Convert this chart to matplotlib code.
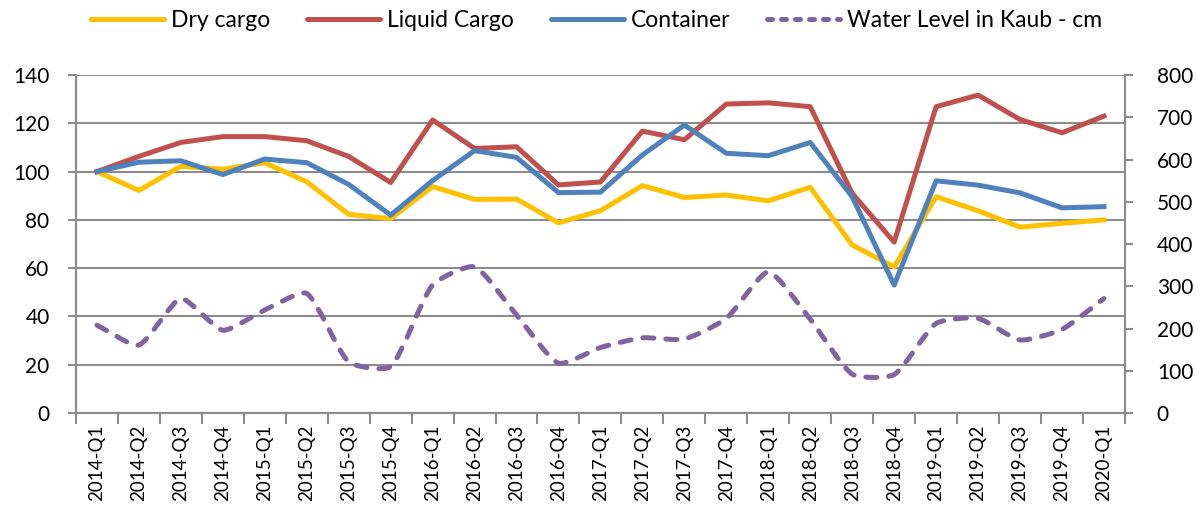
import numpy as np
import matplotlib
matplotlib.use("Agg")
import matplotlib.pyplot as plt
from matplotlib.path import Path
from matplotlib.patches import PathPatch
from matplotlib.lines import Line2D

plt.rcParams["font.family"] = ["Lato", "DejaVu Sans"]

quarters = ["2014-Q1", "2014-Q2", "2014-Q3", "2014-Q4",
            "2015-Q1", "2015-Q2", "2015-Q3", "2015-Q4",
            "2016-Q1", "2016-Q2", "2016-Q3", "2016-Q4",
            "2017-Q1", "2017-Q2", "2017-Q3", "2017-Q4",
            "2018-Q1", "2018-Q2", "2018-Q3", "2018-Q4",
            "2019-Q1", "2019-Q2", "2019-Q3", "2019-Q4", "2020-Q1"]

dry_cargo = [100, 92.2, 102.2, 101, 103.7, 95.8, 82.3, 80.5,
             93.8, 88.5, 88.6, 78.8, 83.8, 94.2, 89.3, 90.3,
             87.9, 93.5, 69.6, 60.5, 89.6, 83.8, 77.0, 78.6, 80.0]
liquid_cargo = [100, 106.3, 112.1, 114.5, 114.5, 112.8, 106.3, 95.5,
                121.4, 109.6, 110.3, 94.5, 95.7, 116.8, 113.2, 128.0,
                128.5, 126.9, 91.0, 70.8, 126.9, 131.7, 121.6, 116.1, 123.0]
container = [100, 103.9, 104.5, 98.8, 105.2, 103.7, 94.7, 82.0,
             96.3, 108.7, 105.9, 91.3, 91.5, 106.9, 119.3, 107.6,
             106.6, 112.1, 89.6, 53.0, 96.2, 94.4, 91.2, 85.0, 85.5]
water_kaub = [208, 161, 271, 196, 244, 283, 121, 110,
              303, 346, 232, 118, 155, 178, 175, 224,
              334, 222, 92, 91, 212, 224, 173, 198, 271]

c_dry = "#FFC000"
c_liq = "#C0504D"
c_con = "#4F81BD"
c_wat = "#8064A2"
grid_c = "#8C8C8C"
lw = 3.6

fig = plt.figure(figsize=(11.98, 5.25), dpi=100)
ax = fig.add_axes([0.0634, 0.2133, 0.8756, 0.6437])
ax2 = ax.twinx()

x = np.arange(len(quarters))
ax.plot(x, dry_cargo, color=c_dry, lw=lw, solid_joinstyle="round", zorder=3)
ax.plot(x, liquid_cargo, color=c_liq, lw=lw, solid_joinstyle="round", zorder=3)
ax.plot(x, container, color=c_con, lw=lw, solid_joinstyle="round", zorder=4)

ax.set_xlim(-0.5, len(quarters) - 0.5)
ax.set_ylim(0, 140)
ax2.set_ylim(0, 800)

# gently smoothed water-level line: bezier through the points, built in
# pixel space, tangents weighted by neighbouring segment lengths
k = 0.2
pix = ax2.transData.transform(np.column_stack([x, water_kaub]).astype(float))
ext = np.vstack([pix[0], pix, pix[-1]])
verts = [pix[0]]
codes = [Path.MOVETO]
for i in range(len(pix) - 1):
    p0, p1, p2, p3 = ext[i], ext[i + 1], ext[i + 2], ext[i + 3]
    d01 = np.hypot(*(p1 - p0))
    d12 = np.hypot(*(p2 - p1))
    d23 = np.hypot(*(p3 - p2))
    c1 = p1 + (p2 - p0) * d12 / (d01 + d12) * k
    c2 = p2 - (p3 - p1) * d12 / (d12 + d23) * k
    verts += [c1, c2, p2]
    codes += [Path.CURVE4] * 3
verts = ax2.transData.inverted().transform(np.array(verts))
patch = PathPatch(Path(verts, codes), fill=False, edgecolor=c_wat, lw=lw,
                  linestyle=(0, (2.2, 2.4)), capstyle="round", zorder=3)
ax2.add_patch(patch)

ax.set_yticks(np.arange(0, 141, 20))
ax2.set_yticks(np.arange(0, 801, 100))

ax.set_xticks(x)
ax.set_xticklabels(quarters, rotation=90, fontsize=13.5)
ax.set_xticks(np.arange(-0.5, len(quarters), 1), minor=True)
ax.tick_params(axis="x", which="major", length=0, pad=8)
ax.tick_params(axis="x", which="minor", length=8, width=1.5, color=grid_c)
ax.tick_params(axis="y", length=6, width=1.5, color=grid_c, labelsize=15, pad=13)
ax2.tick_params(axis="y", length=6, width=1.5, color=grid_c, labelsize=15, pad=17)

ax.grid(axis="y", color=grid_c, lw=1.5)
ax.set_axisbelow(True)
for a in (ax, ax2):
    a.spines["top"].set_visible(False)
    for s in ("left", "right", "bottom"):
        a.spines[s].set_color(grid_c)
        a.spines[s].set_linewidth(1.5)

handles = [
    Line2D([], [], color=c_dry, lw=lw, solid_capstyle="round"),
    Line2D([], [], color=c_liq, lw=lw, solid_capstyle="round"),
    Line2D([], [], color=c_con, lw=lw, solid_capstyle="round"),
    Line2D([], [], color=c_wat, lw=lw, linestyle=(0, (1.0, 1.8)),
           dash_capstyle="round"),
]
labels = ["Dry cargo", "Liquid Cargo", "Container", "Water Level in Kaub - cm"]
fig.legend(handles, labels, loc="center", bbox_to_anchor=(0.498, 0.96),
           ncol=4, frameon=False, fontsize=16.5, handlelength=3.2,
           handletextpad=0.3, columnspacing=1.6)

fig.savefig("out.png", dpi=100)
